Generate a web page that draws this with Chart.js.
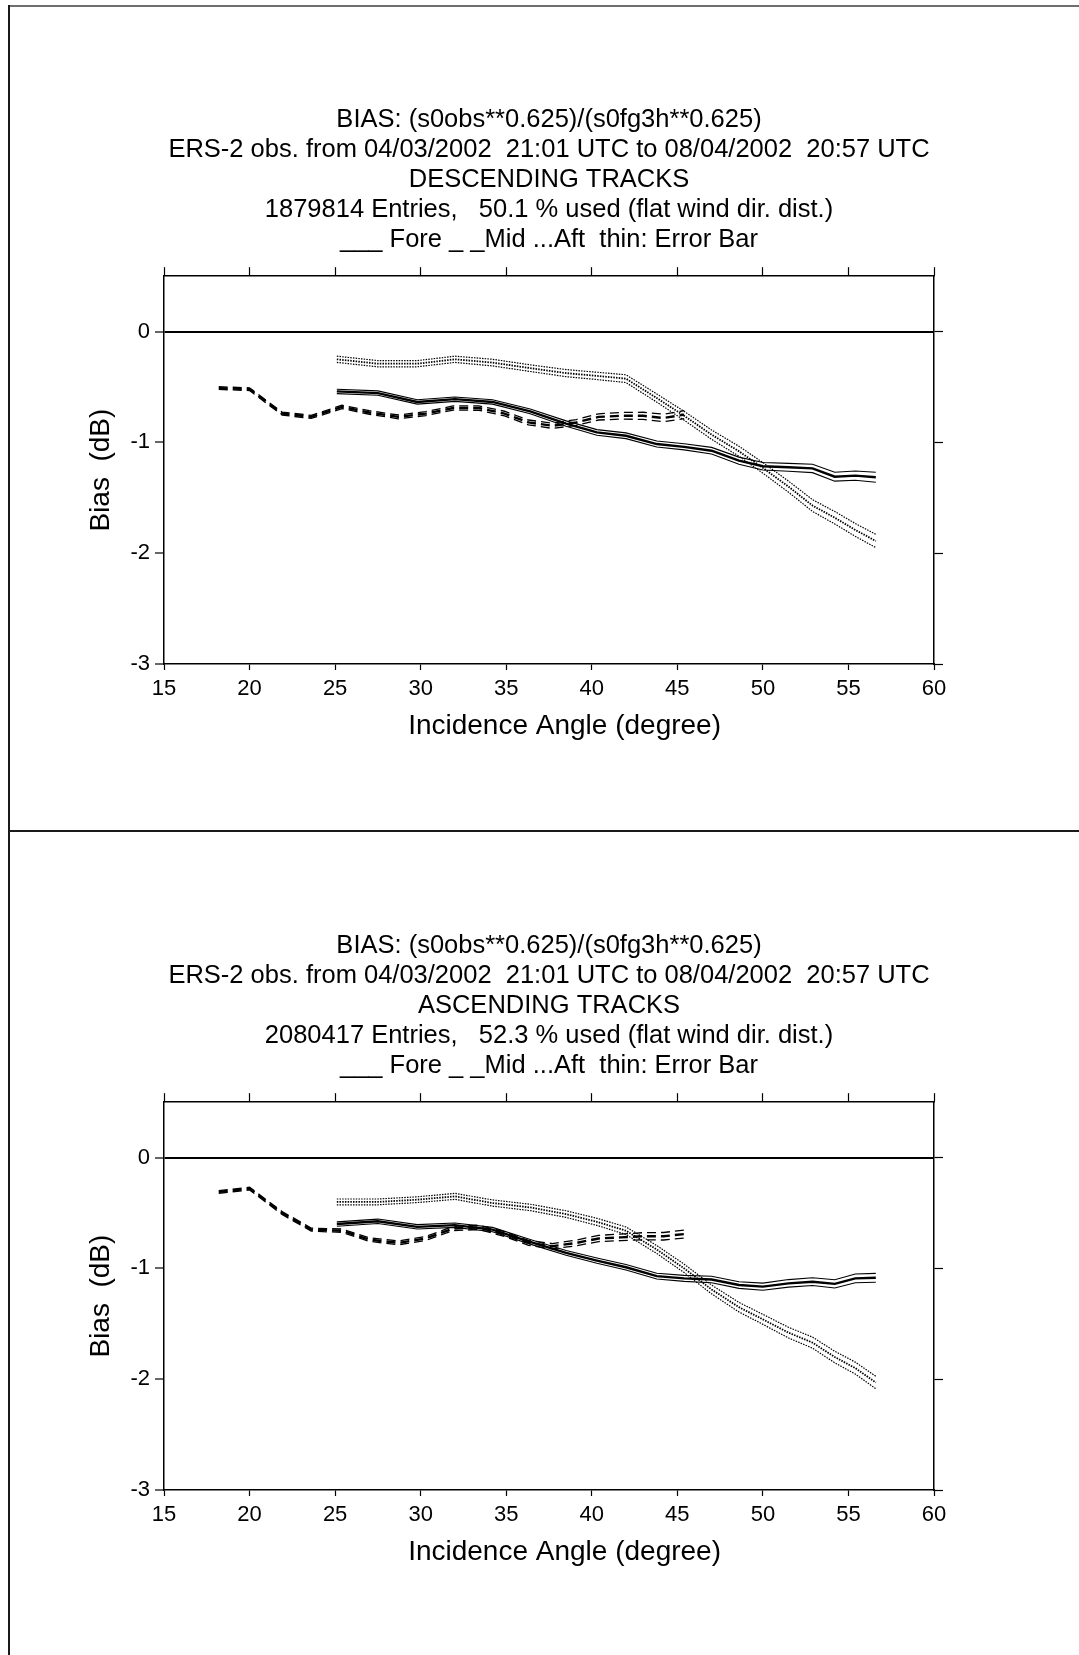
<!DOCTYPE html>
<html lang="en">
<head>
<meta charset="utf-8">
<title>ERS-2 sigma0 bias vs incidence angle</title>
<script src="https://cdn.jsdelivr.net/npm/chart.js@4.4.1/dist/chart.umd.min.js"></script>
<style>
    html, body { margin: 0; padding: 0; background: #fff; }
    body { position: relative; width: 1079px; height: 1655px; overflow: hidden; }
    .page-top { position: absolute; left: 9px; top: 5px; right: 0; border-top: 2px solid #6e6e6e; }
    .page-left { position: absolute; left: 8px; top: 5px; bottom: 0; border-left: 2px solid #1a1a1a; }
    .page-split { position: absolute; left: 9px; top: 830px; right: 0; border-top: 2px solid #1a1a1a; }
    .panel { position: absolute; left: 0; width: 1079px; height: 826px; }
    #descPanel { top: 0; }
    #ascPanel { top: 826px; }
</style>
</head>
<body>
<div class="page-top"></div>
<div class="page-left"></div>
<div class="page-split"></div>
<div class="panel" id="descPanel"><canvas id="descChart" width="1079" height="826"></canvas></div>
<div class="panel" id="ascPanel"><canvas id="ascChart" width="1079" height="826"></canvas></div>

<script>
// incidence angle of each node (deg)
const foreAftAngles = [25.1, 27.5, 29.8, 32.0, 34.2, 36.4, 38.5, 40.3, 42.0, 43.8, 45.4, 47.0, 48.6, 50.0, 51.5, 52.9, 54.2, 55.4, 56.6];
const midAngles = [18.2, 20.0, 21.9, 23.6, 25.4, 27.0, 28.7, 30.3, 31.9, 33.4, 34.9, 36.3, 37.7, 39.1, 40.4, 41.7, 43.0, 44.2, 45.4];

// descending tracks: mean bias (dB) and error bar half width
const descFore = [-0.54, -0.555, -0.635, -0.61, -0.635, -0.72, -0.83, -0.91, -0.94, -1.015, -1.04, -1.075, -1.165, -1.215, -1.225, -1.235, -1.31, -1.30, -1.315];
const descMid = [-0.51, -0.52, -0.74, -0.77, -0.68, -0.73, -0.77, -0.74, -0.69, -0.69, -0.74, -0.82, -0.85, -0.82, -0.77, -0.76, -0.76, -0.78, -0.75];
const descAft = [-0.25, -0.29, -0.29, -0.25, -0.28, -0.33, -0.375, -0.40, -0.425, -0.60, -0.76, -0.93, -1.08, -1.23, -1.40, -1.57, -1.68, -1.79, -1.89];
const descForeErr = [0.02, 0.02, 0.02, 0.02, 0.02, 0.022, 0.024, 0.025, 0.026, 0.027, 0.028, 0.03, 0.032, 0.034, 0.036, 0.038, 0.04, 0.042, 0.045];
const descMidErr = [0.012, 0.012, 0.013, 0.014, 0.015, 0.016, 0.017, 0.018, 0.019, 0.02, 0.021, 0.022, 0.024, 0.026, 0.028, 0.03, 0.032, 0.034, 0.036];
const descAftErr = [0.028, 0.028, 0.028, 0.028, 0.03, 0.03, 0.032, 0.033, 0.035, 0.037, 0.04, 0.042, 0.045, 0.048, 0.05, 0.053, 0.056, 0.058, 0.06];

// ascending tracks
const ascFore = [-0.60, -0.575, -0.625, -0.61, -0.65, -0.76, -0.86, -0.93, -0.99, -1.07, -1.09, -1.10, -1.15, -1.165, -1.135, -1.12, -1.14, -1.09, -1.085];
const ascMid = [-0.31, -0.28, -0.50, -0.65, -0.66, -0.74, -0.77, -0.73, -0.64, -0.63, -0.69, -0.77, -0.80, -0.77, -0.73, -0.72, -0.71, -0.71, -0.69];
const ascAft = [-0.40, -0.40, -0.38, -0.35, -0.41, -0.45, -0.51, -0.58, -0.66, -0.83, -1.00, -1.19, -1.35, -1.46, -1.58, -1.67, -1.80, -1.90, -2.03];
const ascForeErr = [0.02, 0.02, 0.02, 0.02, 0.02, 0.021, 0.022, 0.024, 0.025, 0.026, 0.027, 0.029, 0.03, 0.032, 0.034, 0.035, 0.037, 0.039, 0.04];
const ascMidErr = [0.012, 0.012, 0.013, 0.014, 0.015, 0.016, 0.017, 0.018, 0.019, 0.02, 0.021, 0.022, 0.024, 0.026, 0.028, 0.03, 0.032, 0.034, 0.036];
const ascAftErr = [0.026, 0.026, 0.026, 0.027, 0.028, 0.029, 0.03, 0.032, 0.034, 0.036, 0.038, 0.04, 0.043, 0.045, 0.048, 0.05, 0.052, 0.054, 0.056];

// axis ticks
const angleTicks = [15, 20, 25, 30, 35, 40, 45, 50, 55, 60];
const biasTicks = [-3, -2, -1, 0];

const headerLines = ["BIAS: (s0obs**0.625)/(s0fg3h**0.625)", "ERS-2 obs. from 04/03/2002  21:01 UTC to 08/04/2002  20:57 UTC"];
const legendLine = "___ Fore _ _Mid ...Aft  thin: Error Bar";

Chart.defaults.font.family = "'Liberation Sans', Arial, Helvetica, sans-serif";
Chart.defaults.color = "#000";

// centre line (sign 0) and the two thin error bar lines
function beamLines(angles, values, errors, dash, centreWidth, edgeWidth) {
    return [0, 1, -1].map((sign) => ({
        data: angles.map((a, i) => ({ x: a, y: values[i] + sign * errors[i] })),
        borderColor: "#000",
        borderWidth: sign === 0 ? centreWidth : edgeWidth,
        borderDash: dash,
        pointRadius: 0,
        tension: 0,
        fill: false,
    }));
}

function keepTicks(values) {
    return (scale) => {
        scale.ticks = values.map((v) => ({ value: v }));
    };
}

function drawPanel(canvasId, heading, fore, mid, aft) {
    const ctx = document.getElementById(canvasId).getContext("2d");
    return new Chart(ctx, {
        type: "line",
        data: {
            datasets: [
                ...beamLines(foreAftAngles, fore[0], fore[1], [], 2.4, 1.1),
                ...beamLines(midAngles, mid[0], mid[1], [9, 5], 2.4, 1.3),
                ...beamLines(foreAftAngles, aft[0], aft[1], [1.5, 1.2], 1.8, 1.2),
            ],
        },
        options: {
            responsive: false,
            animation: false,
            layout: { padding: { left: 0, right: 136, top: 0, bottom: 0 } },
            plugins: {
                legend: { display: false },
                tooltip: { enabled: false },
                title: {
                    display: true,
                    fullSize: false,
                    text: heading,
                    color: "#000",
                    font: { size: 25.5, weight: "normal", lineHeight: 1.17 },
                    padding: { top: 105.5, bottom: 12.5 },
                },
            },
            scales: {
                x: {
                    type: "linear",
                    position: "bottom",
                    min: 15,
                    max: 60,
                    afterBuildTicks: keepTicks(angleTicks),
                    afterFit: (s) => { s.height = 162; },
                    ticks: { font: { size: 22 }, padding: 6, maxRotation: 0, autoSkip: false },
                    grid: { drawOnChartArea: false, color: "#000", tickLength: 6, tickWidth: 1.2 },
                    border: { display: true, color: "#000", width: 1.5 },
                    title: {
                        display: true,
                        text: "    Incidence Angle (degree)",
                        font: { size: 28 },
                        padding: { top: 0, bottom: 83 },
                    },
                },
                xTop: {
                    type: "linear",
                    axis: "x",
                    position: "top",
                    min: 15,
                    max: 60,
                    afterBuildTicks: keepTicks(angleTicks),
                    afterFit: (s) => { s.height = 9; },
                    ticks: { display: false },
                    grid: { drawOnChartArea: false, color: "#000", tickLength: 9, tickWidth: 1.2 },
                    border: { display: true, color: "#000", width: 1.5 },
                },
                y: {
                    type: "linear",
                    position: "left",
                    min: -3,
                    max: 0.5,
                    afterBuildTicks: keepTicks(biasTicks),
                    afterFit: (s) => { s.width = 164; },
                    ticks: { font: { size: 22 }, padding: 5 },
                    grid: {
                        drawOnChartArea: true,
                        // only the zero line crosses the plot
                        color: (c) => (c.tick && c.tick.value === 0 ? "#000" : "rgba(0,0,0,0)"),
                        lineWidth: 2,
                        tickColor: "#000",
                        tickWidth: 1.2,
                        tickLength: 9,
                    },
                    border: { display: true, color: "#000", width: 1.5 },
                    title: {
                        display: true,
                        text: "Bias  (dB)",
                        font: { size: 28 },
                        padding: { top: 84, bottom: 0 },
                    },
                },
                yRight: {
                    type: "linear",
                    axis: "y",
                    position: "right",
                    min: -3,
                    max: 0.5,
                    afterBuildTicks: keepTicks(biasTicks),
                    afterFit: (s) => { s.width = 9; },
                    ticks: { display: false },
                    grid: { drawOnChartArea: false, color: "#000", tickLength: 9, tickWidth: 1.2 },
                    border: { display: true, color: "#000", width: 1.5 },
                },
            },
        },
    });
}

drawPanel("descChart",
    [...headerLines, "DESCENDING TRACKS", "1879814 Entries,   50.1 % used (flat wind dir. dist.)", legendLine],
    [descFore, descForeErr], [descMid, descMidErr], [descAft, descAftErr]);

drawPanel("ascChart",
    [...headerLines, "ASCENDING TRACKS", "2080417 Entries,   52.3 % used (flat wind dir. dist.)", legendLine],
    [ascFore, ascForeErr], [ascMid, ascMidErr], [ascAft, ascAftErr]);
</script>
</body>
</html>
